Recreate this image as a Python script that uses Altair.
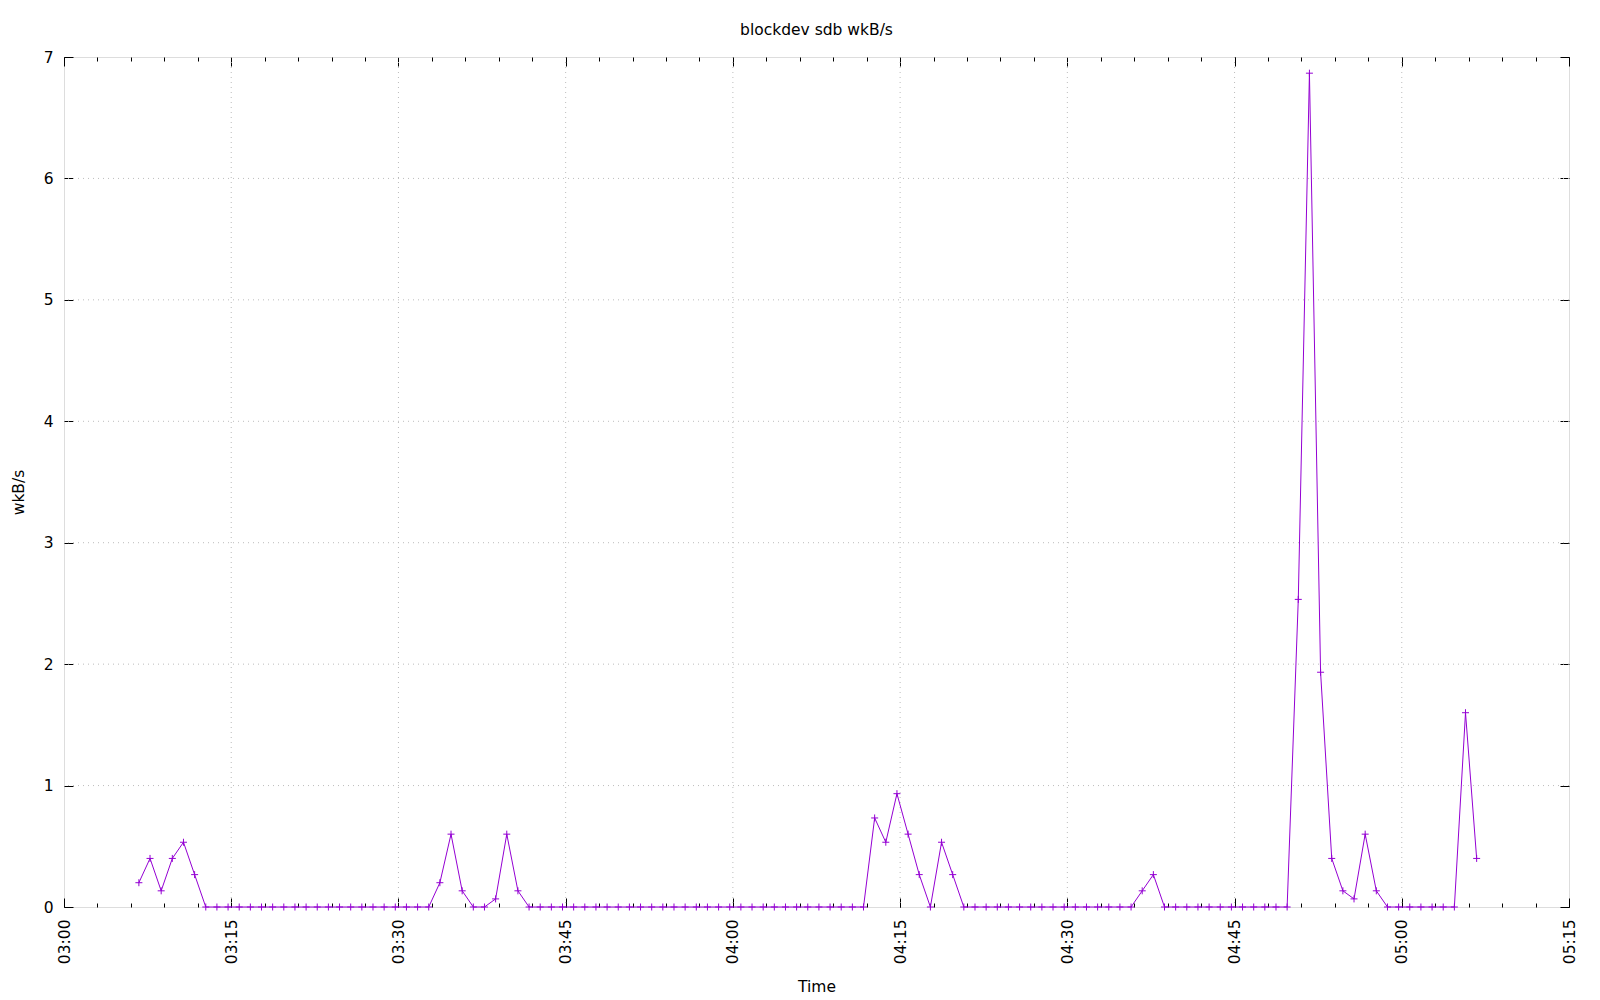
import altair as alt
import pandas as pd

# ---------------- data ----------------
start_time = "2024-01-01 03:06:43"   # first sample, one sample per minute
wkbs = [
    0.2, 0.4, 0.1333, 0.4, 0.5333, 0.2667,
    0, 0, 0, 0, 0, 0, 0, 0, 0, 0, 0, 0, 0, 0, 0, 0, 0, 0, 0, 0, 0,
    0.2, 0.6, 0.1333, 0, 0, 0.0667, 0.6, 0.1333,
    0, 0, 0, 0, 0, 0, 0, 0, 0, 0, 0, 0, 0, 0, 0, 0,
    0, 0, 0, 0, 0, 0, 0, 0, 0, 0, 0, 0, 0, 0, 0,
    0.7333, 0.5333, 0.9333, 0.6, 0.2667, 0, 0.5333, 0.2667,
    0, 0, 0, 0, 0, 0, 0, 0, 0, 0, 0, 0, 0, 0, 0, 0,
    0.1333, 0.2667,
    0, 0, 0, 0, 0, 0, 0, 0, 0, 0, 0, 0,
    2.5333, 6.8667, 1.9333, 0.4, 0.1333, 0.0667, 0.6, 0.1333,
    0, 0, 0, 0, 0, 0, 0,
    1.6, 0.4,
]
x_tick_labels = ["03:00", "03:15", "03:30", "03:45", "04:00", "04:15",
                 "04:30", "04:45", "05:00", "05:15"]
y_ticks = [0, 1, 2, 3, 4, 5, 6, 7]
y_grid = [1, 2, 3, 4, 5, 6]

# ---------------- styling ----------------
W, H = 1505, 850
FONT = "DejaVu Sans"
FS = 15.5
PURPLE = "#9400d3"
GRID = "#bcbcbc"

df = pd.DataFrame({
    "t": pd.date_range(start_time, periods=len(wkbs), freq="1min"),
    "v": wkbs,
})


def hm(s):
    return alt.DateTime(year=2024, month=1, date=1,
                        hours=int(s[:2]), minutes=int(s[3:]))


def ts(s):
    return pd.Timestamp("2024-01-01 " + s)


major_x = [hm(s) for s in x_tick_labels]
minor_strings = []
for h in (3, 4, 5):
    for m in range(0, 60, 3):
        if h * 60 + m <= 5 * 60 + 15:
            minor_strings.append(f"{h:02d}:{m:02d}")
minor_x = [hm(s) for s in minor_strings]

gx_df = pd.DataFrame({"t": [ts(s) for s in x_tick_labels[1:-1]]})
gy_df = pd.DataFrame({"v": y_grid})
minor_df = pd.DataFrame({"t": [ts(s) for s in minor_strings]})

xs = alt.Scale(domain=[hm(x_tick_labels[0]), hm(x_tick_labels[-1])])
ys = alt.Scale(domain=[0, 7], nice=False, zero=False)

common_tick = dict(tickColor="black", tickWidth=1, domain=False, grid=False)

ax_bottom = alt.Axis(
    orient="bottom", values=major_x, format="%H:%M",
    labelAngle=270, labelAlign="right", labelBaseline="middle",
    labelPadding=12, labelFont=FONT, labelFontSize=FS, labelColor="black",
    labelOverlap=False, labelFlush=False,
    tickSize=9, offset=-9,
    title="Time", titleFont=FONT, titleFontSize=FS, titleFontWeight="normal",
    titleColor="black", titleY=88, titleBaseline="middle",
    **common_tick)
ax_top = alt.Axis(orient="top", values=major_x, labels=False, tickSize=9,
                  offset=-9, title=None, **common_tick)
ax_bottom_minor = alt.Axis(orient="bottom", values=minor_x, labels=False,
                           tickSize=4, offset=-4, title=None, **common_tick)
ax_top_minor = alt.Axis(orient="top", values=minor_x, labels=False,
                        tickSize=4, offset=-4, title=None, **common_tick)
ax_left = alt.Axis(
    orient="left", values=y_ticks, format="d",
    labelPadding=11, labelFont=FONT, labelFontSize=FS, labelColor="black",
    labelFlush=False, labelOverlap=False,
    tickSize=9, offset=-9,
    title="wkB/s", titleFont=FONT, titleFontSize=FS, titleFontWeight="normal",
    titleColor="black", titleX=-55, titleY=435, titleAngle=270,
    titleBaseline="middle", titleAlign="center",
    **common_tick)
ax_right = alt.Axis(orient="right", values=y_ticks, labels=False, tickSize=9,
                    offset=-9, title=None, **common_tick)

grid_x = alt.Chart(gx_df).mark_rule(
    color=GRID, strokeDash=[1, 4], strokeWidth=1
).encode(x=alt.X("t:T", scale=xs, axis=ax_bottom))

grid_y = alt.Chart(gy_df).mark_rule(
    color=GRID, strokeDash=[1, 4], strokeWidth=1
).encode(y=alt.Y("v:Q", scale=ys, axis=ax_left))

line = alt.Chart(df).mark_line(color=PURPLE, strokeWidth=1).encode(
    x=alt.X("t:T", scale=xs, axis=ax_top),
    y=alt.Y("v:Q", scale=ys, axis=ax_right),
)

points = alt.Chart(df).mark_point(
    shape="M-1,0H1M0,-1V1", filled=False, stroke=PURPLE, strokeWidth=1,
    size=49, opacity=1
).encode(
    x=alt.X("t:T", scale=xs, axis=ax_bottom_minor),
    y=alt.Y("v:Q", scale=ys, axis=None),
)

minor_top = alt.Chart(minor_df).mark_rule(opacity=0).encode(
    x=alt.X("t:T", scale=xs, axis=ax_top_minor)
)

chart = alt.layer(grid_x, grid_y, line, points, minor_top).resolve_axis(
    x="independent", y="independent"
).properties(
    width=W, height=H,
    autosize="none",
    padding={"left": 56, "top": 49, "right": 23, "bottom": 92},
    title=alt.TitleParams(
        text="blockdev sdb wkB/s", font=FONT, fontSize=FS,
        fontWeight="normal", color="black", anchor="middle", frame="group",
        baseline="alphabetic", offset=0),
).configure_view(stroke="black", strokeWidth=1).configure(background="white")

chart.save("out.html", embed_options={"renderer": "svg", "actions": False})
